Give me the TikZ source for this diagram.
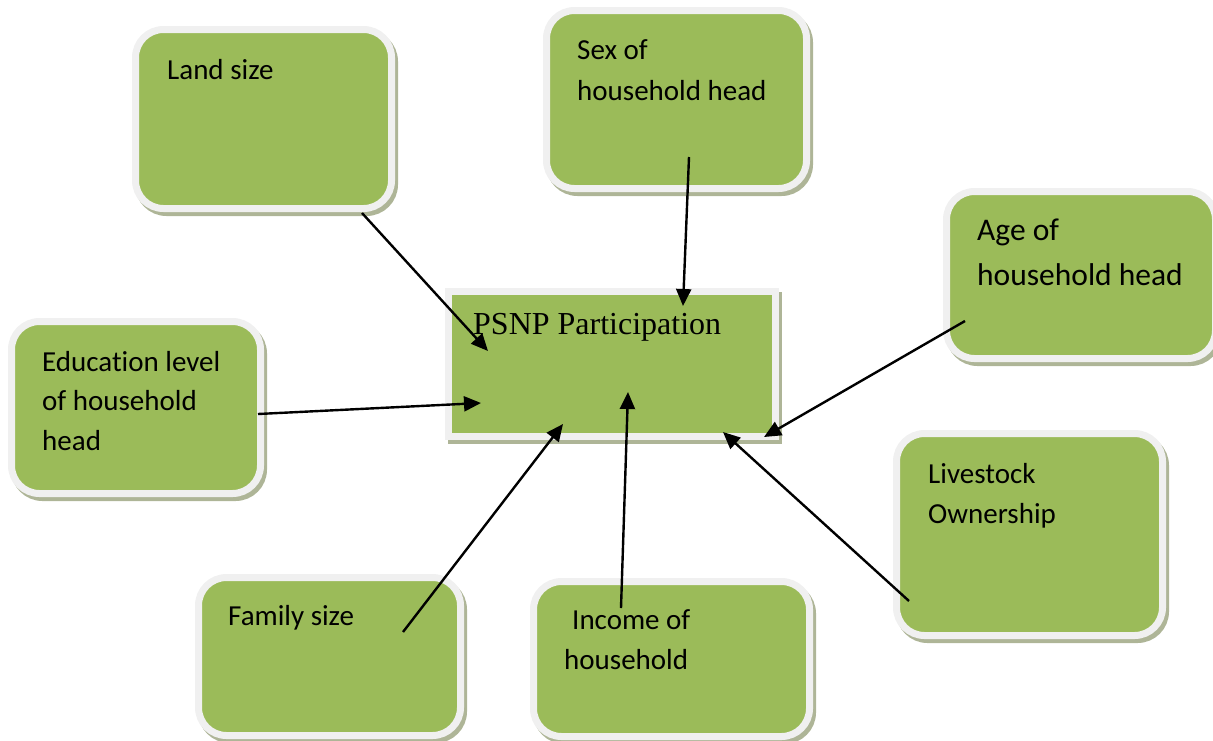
\documentclass[tikz,border=0pt]{standalone}
\usepackage{fontspec}
\setmainfont{Carlito}[Ligatures=NoCommon]
\newfontfamily\timesfont{Liberation Serif}
\usetikzlibrary{arrows.meta}
\definecolor{boxgreen}{HTML}{9BBB59}
\definecolor{framegray}{HTML}{F0F0F0}
\definecolor{shadowcol}{HTML}{AEB597}
\tikzset{
  frbox/.style={rectangle, rounded corners=28pt, fill=boxgreen, draw=framegray, line width=7pt, inner sep=0pt,
    preaction={fill=shadowcol, draw=shadowcol, line width=7pt, transform canvas={xshift=3pt,yshift=-4pt}}},
  sqbox/.style={frbox, rounded corners=0pt},
  txt/.style={anchor=base west, inner sep=0pt, font=\fontsize{29}{40}\selectfont},
  bigtxt/.style={txt, font=\fontsize{31.5}{45}\selectfont},
  conn/.style={line width=2.4pt, -{Triangle[length=17pt,width=15pt]}}
}
\begin{document}
\begin{tikzpicture}[x=1pt,y=-1pt]
\useasboundingbox (0,0) rectangle (1213,740);
% boxes
\node[frbox, minimum width=256pt, minimum height=179pt] (land) at (263.5,119) {};
\node[frbox, minimum width=260pt, minimum height=178pt] (sex) at (676.5,99.5) {};
\node[frbox, minimum width=269pt, minimum height=167pt] (age) at (1081,275) {};
\node[frbox, minimum width=249pt, minimum height=172pt] (edu) at (136,407.5) {};
\node[frbox, minimum width=266pt, minimum height=202pt] (live) at (1029.5,534.5) {};
\node[frbox, minimum width=262pt, minimum height=158pt] (fam) at (329.5,656.5) {};
\node[frbox, minimum width=276pt, minimum height=155pt] (inc) at (671.5,659) {};
\node[sqbox, minimum width=327pt, minimum height=145pt] (psnp) at (612,364) {};
% texts
\node[txt] (landT) at (167,79) {Land size};
\node[txt] (sexT1) at (577,59) {Sex of};
\node[txt] (sexT2) at (577,100) {household head};
\node[bigtxt] (ageT1) at (977,240) {Age of};
\node[bigtxt] (ageT2) at (977,285) {household head};
\node[txt] (eduT1) at (42,371) {Education level};
\node[txt] (eduT2) at (42,410) {of household};
\node[txt] (eduT3) at (42,450) {head};
\node[txt] (liveT1) at (928,483) {Livestock};
\node[txt] (liveT2) at (928,523) {Ownership};
\node[txt] (famT) at (228,625) {Family size};
\node[txt] (incT1) at (572,629) {Income of};
\node[txt] (incT2) at (564,669) {household};
\node[anchor=base west, inner sep=0pt, font=\timesfont\fontsize{32}{38}\selectfont] (psnpT) at (473,334) {PSNP Participation};
% connector end points
\coordinate (landS) at (362,213);
\coordinate (landE) at (488,351);
\coordinate (sexS) at (689,157);
\coordinate (sexE) at (683,306);
\coordinate (ageS) at (965,321);
\coordinate (ageE) at (764,437);
\coordinate (eduS) at (258,414);
\coordinate (eduE) at (481,403);
\coordinate (famS) at (403,632);
\coordinate (famE) at (563,424);
\coordinate (incS) at (621,608);
\coordinate (incE) at (628,392);
\coordinate (liveS) at (909,601);
\coordinate (liveE) at (723,432);
% connectors
\draw[conn] (landS) -- (landE);
\draw[conn] (sexS) -- (sexE);
\draw[conn] (ageS) -- (ageE);
\draw[conn] (eduS) -- (eduE);
\draw[conn] (famS) -- (famE);
\draw[conn] (incS) -- (incE);
\draw[conn] (liveS) -- (liveE);
\end{tikzpicture}
\end{document}
